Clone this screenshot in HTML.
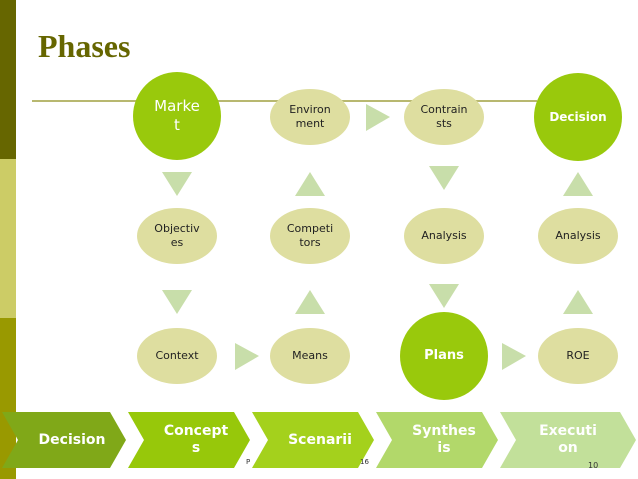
<!DOCTYPE html>
<html><head><style>
body{margin:0;width:638px;height:479px;overflow:hidden;background:#fff;position:relative;font-family:"DejaVu Sans","Liberation Sans",sans-serif}
.bar{position:absolute;left:0;width:16px}
.n{position:absolute;display:flex;align-items:center;justify-content:center;text-align:center;border-radius:50%;font-size:11px;line-height:14px;color:#222}
.e{background:#dedea0;width:80px;height:56px}
.c{background:#99c90c;color:#fff;width:88px;height:88px}
</style></head><body>
<div class="bar" style="top:0;height:159px;background:#666600"></div>
<div class="bar" style="top:159px;height:159px;background:#cccc66"></div>
<div class="bar" style="top:318px;height:161px;background:#999900"></div>
<div style="position:absolute;left:38px;top:28px;font-family:'Liberation Serif',serif;font-weight:bold;font-size:32px;color:#666600">Phases</div>
<div style="position:absolute;left:32px;top:100px;width:505px;height:2px;background:#b8b870"></div>
<svg width="638" height="479" style="position:absolute;left:0;top:0">
<g fill="#c8deaa">
<polygon points="162,172 192,172 177,196"/>
<polygon points="162,290 192,290 177,314"/>
<polygon points="295,196 325,196 310,172"/>
<polygon points="295,314 325,314 310,290"/>
<polygon points="429,166 459,166 444,190"/>
<polygon points="429,284 459,284 444,308"/>
<polygon points="563,196 593,196 578,172"/>
<polygon points="563,314 593,314 578,290"/>
<polygon points="366,104 366,131 390,117"/>
<polygon points="235,343 235,370 259,356"/>
<polygon points="502,343 502,370 526,356"/>
</g>
<polygon points="2,412 110,412 126,440 110,468 2,468 18,440" fill="#80a818"/>
<polygon points="128,412 234,412 250,440 234,468 128,468 144,440" fill="#97c80a"/>
<polygon points="252,412 358,412 374,440 358,468 252,468 268,440" fill="#a4d11c"/>
<polygon points="376,412 482,412 498,440 482,468 376,468 392,440" fill="#b2d86a"/>
<polygon points="500,412 620,412 636,440 620,468 500,468 516,440" fill="#c2e09a"/>
</svg>
<div class="n c" style="left:133px;top:72px;font-size:15px;line-height:19px">Marke<br>t</div>
<div class="n e" style="left:270px;top:89px">Environ<br>ment</div>
<div class="n e" style="left:404px;top:89px">Contrain<br>sts</div>
<div class="n c" style="left:534px;top:73px;font-weight:bold;font-size:12px">Decision</div>
<div class="n e" style="left:137px;top:208px">Objectiv<br>es</div>
<div class="n e" style="left:270px;top:208px">Competi<br>tors</div>
<div class="n e" style="left:404px;top:208px">Analysis</div>
<div class="n e" style="left:538px;top:208px">Analysis</div>
<div class="n e" style="left:137px;top:328px">Context</div>
<div class="n e" style="left:270px;top:328px">Means</div>
<div class="n c" style="left:400px;top:312px;font-weight:bold;font-size:13px">Plans</div>
<div class="n e" style="left:538px;top:328px">ROE</div>
<div style="position:absolute;top:412px;height:56px;left:18px;width:108px;display:flex;align-items:center;justify-content:center;color:#fff;font-weight:bold;font-size:14px">Decision</div>
<div style="position:absolute;top:412px;height:56px;left:140px;width:112px;display:flex;align-items:center;justify-content:center;text-align:center;color:#fff;font-weight:bold;font-size:14px;line-height:17px">Concept<br>s</div>
<div style="position:absolute;top:412px;height:56px;left:264px;width:112px;display:flex;align-items:center;justify-content:center;color:#fff;font-weight:bold;font-size:14px">Scenarii</div>
<div style="position:absolute;top:412px;height:56px;left:388px;width:112px;display:flex;align-items:center;justify-content:center;text-align:center;color:#fff;font-weight:bold;font-size:14px;line-height:17px">Synthes<br>is</div>
<div style="position:absolute;top:412px;height:56px;left:512px;width:112px;display:flex;align-items:center;justify-content:center;text-align:center;color:#fff;font-weight:bold;font-size:14px;line-height:17px">Executi<br>on</div>
<div style="position:absolute;left:246px;top:458px;font-size:7px;color:#333">P</div>
<div style="position:absolute;left:360px;top:458px;font-size:7px;color:#333">16</div>
<div style="position:absolute;left:588px;top:461px;font-size:8px;color:#333">10</div>
</body></html>
